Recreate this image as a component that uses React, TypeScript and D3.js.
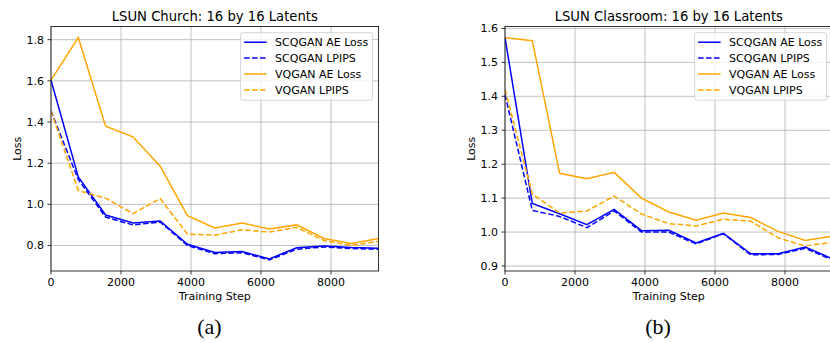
import React from "react";
import * as d3 from "d3";

const steps = [0, 780, 1560, 2340, 3120, 3900, 4680, 5460, 6240, 7020, 7800, 8580, 9360];

const churchScqAE = [1.603, 1.133, 0.948, 0.909, 0.919, 0.806, 0.766, 0.771, 0.735, 0.789, 0.798, 0.79, 0.787];
const churchScqLpips = [1.454, 1.12, 0.938, 0.9, 0.914, 0.8, 0.76, 0.765, 0.73, 0.782, 0.793, 0.785, 0.782];
const churchVqAE = [1.603, 1.81, 1.38, 1.328, 1.185, 0.945, 0.885, 0.909, 0.88, 0.9, 0.834, 0.81, 0.834];
const churchVqLpips = [1.454, 1.067, 1.03, 0.955, 1.028, 0.855, 0.85, 0.876, 0.865, 0.888, 0.824, 0.8, 0.82];

const classScqAE = [1.573, 1.084, 1.054, 1.022, 1.067, 1.004, 1.005, 0.968, 0.996, 0.936, 0.936, 0.956, 0.921];
const classScqLpips = [1.405, 1.064, 1.046, 1.013, 1.062, 1.0, 1.0, 0.965, 0.995, 0.933, 0.934, 0.952, 0.918];
const classVqAE = [1.573, 1.564, 1.173, 1.157, 1.176, 1.1, 1.059, 1.035, 1.056, 1.043, 1.002, 0.975, 0.988];
const classVqLpips = [1.42, 1.112, 1.056, 1.062, 1.106, 1.053, 1.025, 1.018, 1.038, 1.032, 0.983, 0.959, 0.97];

const seriesNames = ["SCQGAN AE Loss", "SCQGAN LPIPS", "VQGAN AE Loss", "VQGAN LPIPS"];
const xTicks = [0, 2000, 4000, 6000, 8000];
const churchYTicks = [0.8, 1.0, 1.2, 1.4, 1.6, 1.8];
const classYTicks = [0.9, 1.0, 1.1, 1.2, 1.3, 1.4, 1.5, 1.6];

const BLUE = "#0000ff";
const ORANGE = "#ffa500";
const styles = [
  { color: BLUE, dash: null },
  { color: BLUE, dash: "5.55,2.4" },
  { color: ORANGE, dash: null },
  { color: ORANGE, dash: "5.55,2.4" },
];

const FONT = "DejaVu Sans, sans-serif";
const FS = 11;

type PanelProps = {
  left: number;
  title: string;
  series: number[][];
  yTicks: number[];
  caption: string;
  captionX: number;
};

function Panel({ left, title, series, yTicks, caption, captionX }: PanelProps) {
  const top = 26.5;
  const bottom = 271;
  const width = 327.6;
  const all = series.flat();
  const lo = d3.min(all) as number;
  const hi = d3.max(all) as number;
  const pad = (hi - lo) * 0.05;
  const x = d3.scaleLinear().domain([0, 9360]).range([left, left + width]);
  const y = d3.scaleLinear().domain([lo - pad, hi + pad]).range([bottom, top]);
  const line = d3
    .line<number>()
    .x((_, i) => x(steps[i]))
    .y((d) => y(d));
  const cx = left + width / 2;
  const fmtY = (v: number) => v.toFixed(1);
  const legRight = left + width - 6;
  const legLeft = legRight - 132;
  const legTop = 32.7;
  return (
    <g>
      <clipPath id={"clip" + left}>
        <rect x={left} y={top} width={width} height={bottom - top} />
      </clipPath>
      {xTicks.map((t) => (
        <line key={"gx" + t} x1={x(t)} x2={x(t)} y1={top} y2={bottom} stroke="#b0b0b0" strokeWidth={0.8} />
      ))}
      {yTicks.map((t) => (
        <line key={"gy" + t} x1={left} x2={left + width} y1={y(t)} y2={y(t)} stroke="#b0b0b0" strokeWidth={0.8} />
      ))}
      <g clipPath={`url(#clip${left})`}>
        {series.map((s, i) => (
          <path
            key={i}
            d={line(s) || ""}
            fill="none"
            stroke={styles[i].color}
            strokeWidth={1.5}
            strokeDasharray={styles[i].dash || undefined}
          />
        ))}
      </g>
      <rect x={left} y={top} width={width} height={bottom - top} fill="none" stroke="#000" strokeWidth={0.8} />
      {xTicks.map((t) => (
        <g key={"tx" + t}>
          <line x1={x(t)} x2={x(t)} y1={bottom} y2={bottom + 3.5} stroke="#000" strokeWidth={0.8} />
          <text x={x(t)} y={286} fontSize={FS} fontFamily={FONT} textAnchor="middle" fill="#000">
            {t}
          </text>
        </g>
      ))}
      {yTicks.map((t) => (
        <g key={"ty" + t}>
          <line x1={left - 3.5} x2={left} y1={y(t)} y2={y(t)} stroke="#000" strokeWidth={0.8} />
          <text x={left - 7} y={y(t) + 4} fontSize={FS} fontFamily={FONT} textAnchor="end" fill="#000">
            {fmtY(t)}
          </text>
        </g>
      ))}
      <text x={cx} y={20.5} fontSize={13.2} fontFamily={FONT} textAnchor="middle" fill="#000">
        {title}
      </text>
      <text x={cx} y={299.5} fontSize={FS} fontFamily={FONT} textAnchor="middle" fill="#000">
        Training Step
      </text>
      <text
        transform={`translate(${left - 30},${(top + bottom) / 2}) rotate(-90)`}
        fontSize={FS}
        fontFamily={FONT}
        textAnchor="middle"
        fill="#000"
      >
        Loss
      </text>
      <rect
        x={legLeft}
        y={legTop}
        width={132}
        height={67.5}
        rx={2}
        fill="#fff"
        fillOpacity={0.8}
        stroke="#cccccc"
        strokeWidth={0.8}
      />
      {seriesNames.map((n, i) => {
        const yy = legTop + 9.5 + i * 15.9;
        return (
          <g key={n}>
            <line
              x1={legLeft + 3.5}
              x2={legLeft + 26}
              y1={yy}
              y2={yy}
              stroke={styles[i].color}
              strokeWidth={1.5}
              strokeDasharray={styles[i].dash || undefined}
            />
            <text x={legLeft + 34.5} y={yy + 4} fontSize={FS} fontFamily={FONT} fill="#000">
              {n}
            </text>
          </g>
        );
      })}
      <text x={captionX} y={334} fontSize={22} fontFamily="Liberation Serif, Times New Roman, serif" textAnchor="middle" fill="#000">
        {caption}
      </text>
    </g>
  );
}

export default function App() {
  return (
    <svg
      width={830}
      height={343}
      style={{ position: "absolute", left: 0, top: 0, background: "#fff" }}
    >
      <rect x={0} y={0} width={830} height={343} fill="#fff" />
      <Panel
        left={51}
        title="LSUN Church: 16 by 16 Latents"
        series={[churchScqAE, churchScqLpips, churchVqAE, churchVqLpips]}
        yTicks={churchYTicks}
        caption="(a)"
        captionX={209.5}
      />
      <Panel
        left={505}
        title="LSUN Classroom: 16 by 16 Latents"
        series={[classScqAE, classScqLpips, classVqAE, classVqLpips]}
        yTicks={classYTicks}
        caption="(b)"
        captionX={658}
      />
    </svg>
  );
}
